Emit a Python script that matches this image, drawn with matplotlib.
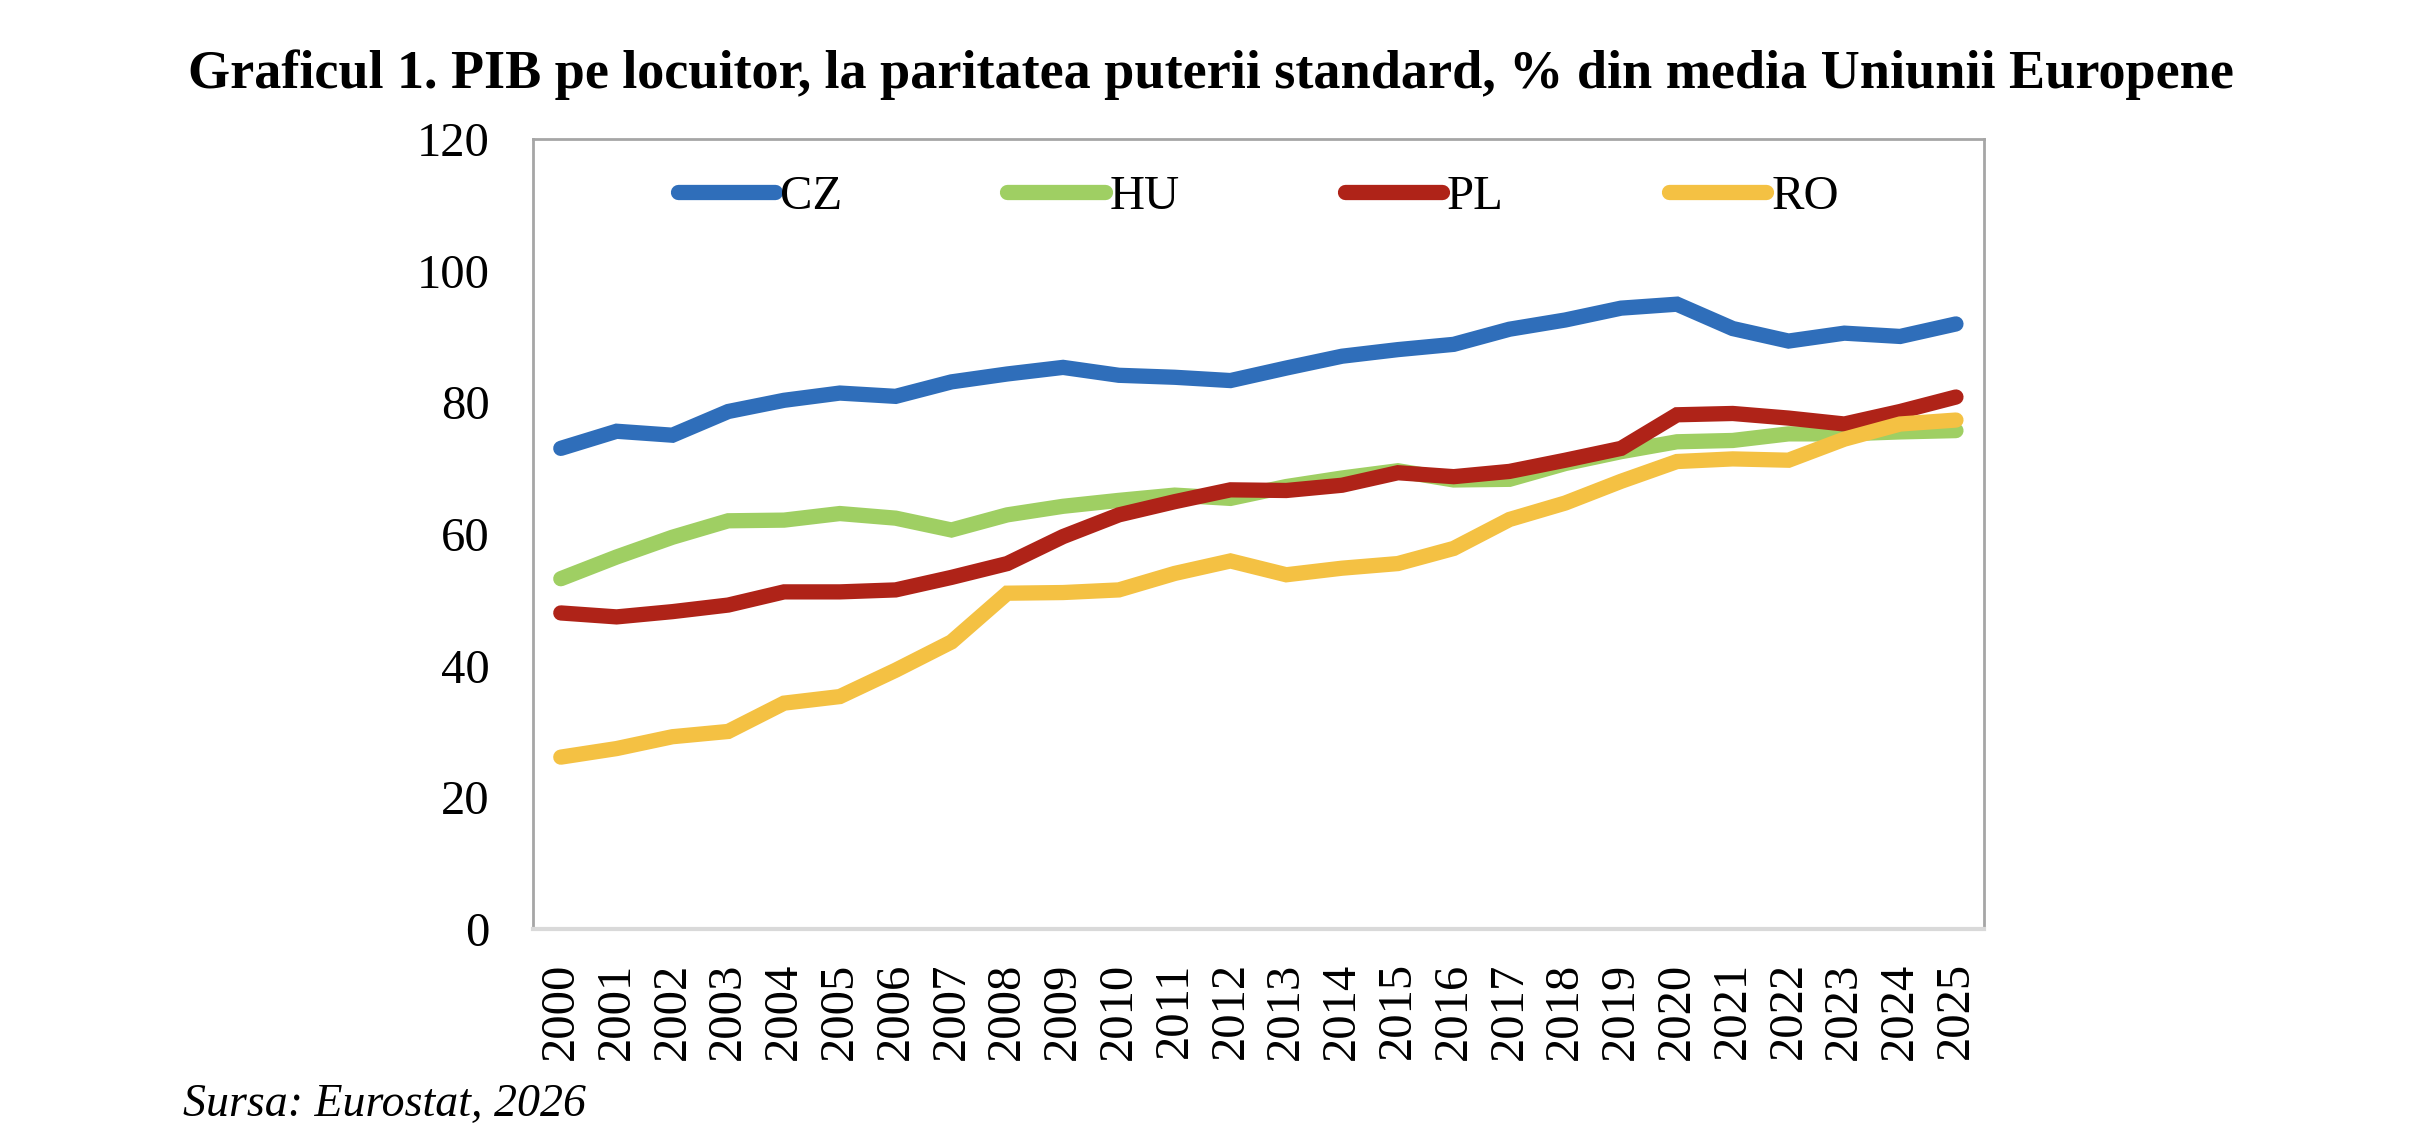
import matplotlib
matplotlib.use('Agg')
import matplotlib.pyplot as plt

# Values (% of EU average, PPS)
years = [str(y) for y in range(2000, 2026)]
cz = [73.0, 75.6, 75.0, 78.6, 80.3, 81.4, 80.9, 83.1, 84.3, 85.3, 84.1, 83.8, 83.3,
      85.2, 87.0, 88.0, 88.8, 91.1, 92.5, 94.3, 94.9, 91.2, 89.3, 90.5, 90.0, 91.9]
hu = [53.2, 56.5, 59.5, 62.0, 62.1, 63.1, 62.4, 60.6, 62.9, 64.2, 65.1, 65.9, 65.4,
      67.2, 68.5, 69.6, 68.2, 68.3, 70.7, 72.5, 74.0, 74.2, 75.2, 75.2, 75.5, 75.7]
pl = [48.0, 47.4, 48.2, 49.2, 51.2, 51.2, 51.5, 53.4, 55.5, 59.6, 62.9, 64.9, 66.7,
      66.6, 67.4, 69.3, 68.7, 69.5, 71.2, 73.0, 78.1, 78.3, 77.6, 76.7, 78.6, 80.8]
ro = [26.1, 27.4, 29.2, 30.0, 34.3, 35.3, 39.3, 43.6, 51.0, 51.1, 51.5, 54.0, 55.9,
      53.8, 54.8, 55.5, 57.8, 62.2, 64.7, 68.0, 71.0, 71.4, 71.2, 74.4, 76.7, 77.3]

series = [('CZ', cz, '#2F6EBA'), ('HU', hu, '#9FCF63'),
          ('PL', pl, '#AF2318'), ('RO', ro, '#F4C143')]

plt.rcParams['font.family'] = ['Liberation Serif', 'DejaVu Serif']

fig = plt.figure(figsize=(24.3, 11.38), dpi=100)
ax = fig.add_axes([0.2193, 0.1837, 0.5971, 0.6942])

x = range(len(years))
for name, vals, col in series:
    ax.plot(x, vals, color=col, linewidth=11, solid_capstyle='round',
            solid_joinstyle='miter', label=name)

ax.set_xlim(-0.5, len(years) - 0.5)
ax.set_ylim(0, 120)
ax.set_yticks(range(0, 121, 20))
ax.set_xticks(list(x))
ax.set_xticklabels(years, rotation=90)
ax.tick_params(axis='y', length=0, pad=31, labelsize=35)
ax.tick_params(axis='x', length=0, pad=24, labelsize=35)

for side in ['left', 'top', 'right']:
    ax.spines[side].set_color('#A6A6A6')
    ax.spines[side].set_linewidth(2)
ax.spines['bottom'].set_color('#D9D9D9')
ax.spines['bottom'].set_linewidth(3)

ax.legend(loc='center', bbox_to_anchor=(0.5, 0.927), ncol=4, frameon=False,
          fontsize=35, handlelength=2.0, handletextpad=0.1, columnspacing=3.4)

fig.text(0.4985, 0.934, 'Graficul 1. PIB pe locuitor, la paritatea puterii standard, % din media Uniunii Europene',
         ha='center', va='center', fontsize=39, fontweight='bold')
fig.text(0.0753, 0.029, 'Sursa: Eurostat, 2026', ha='left', va='center',
         fontsize=33, style='italic')

fig.savefig('out.png', dpi=100)
